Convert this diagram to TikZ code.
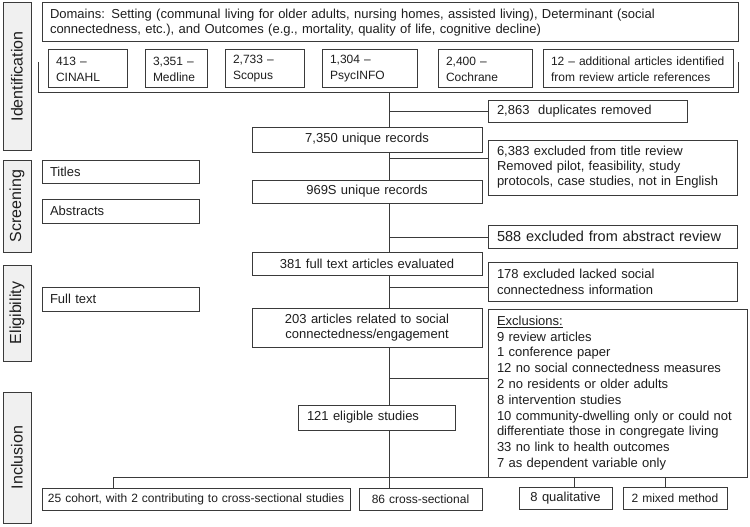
\documentclass[tikz,border=0pt]{standalone}
\usepackage{fontspec}
\setmainfont{Liberation Sans}
\usetikzlibrary{calc}
\definecolor{ln}{HTML}{3A3A3A}
\definecolor{sidefill}{HTML}{F0F0F0}
\definecolor{txt}{HTML}{1E1E1E}
\newcommand\myfs[2]{\fontsize{#1}{#2}\selectfont}
% \bx{name}{x1}{y1}{x2}{y2}{align + extra keys}{pad}{text}
\newcommand\bx[8]{%
  \pgfmathsetmacro\bxw{#4-#2}%
  \pgfmathsetmacro\bxh{#5-#3}%
  \pgfmathsetmacro\bxt{#4-#2-2*#7}%
  \node[box, minimum width=\bxw pt, minimum height=\bxh pt, text width=\bxt pt, align=#6]
    (#1) at ({(#2+#4)/2},{(#3+#5)/2}) {#8};}
\newcommand\sidebox[4]{%
  \pgfmathsetmacro\sbh{#4-#3}%
  \node[side, minimum width=\sbh pt, minimum height=28pt] (#1) at (17,{(#3+#4)/2}) {#2};}
\begin{document}
\begin{tikzpicture}[x=1pt,y=-1pt,
  box/.style={draw=ln, line width=1pt, inner sep=0pt, text=txt, fill=white,
    font=\myfs{13}{15.5}},
  side/.style={draw=ln, line width=1pt, fill=sidefill, inner sep=0pt, text=txt,
    font=\myfs{16}{19}, rotate=90},
  dbbox/.style={font=\myfs{12}{16}},
  conn/.style={draw=ln, line width=1pt}]
\useasboundingbox (0,0) rectangle (750,527);

% phase labels
\sidebox{sid}{Identification}{3}{150}
\sidebox{sscr}{Screening}{160}{252}
\sidebox{selig}{Eligibility}{265}{361}
\sidebox{sincl}{Inclusion}{392}{523}

% identification
\bx{dom}{42}{3}{738}{42}{left}{8}{Domains: Setting (communal living for older adults, nursing homes, assisted living), Determinant (social\\connectedness, etc.), and Outcomes (e.g., mortality, quality of life, cognitive decline)}
\bx{cin}{48}{50}{127}{88}{left, dbbox}{8}{413 –\\CINAHL}
\bx{med}{145}{50}{207}{88}{left, dbbox}{8}{3,351 –\\Medline}
\bx{sco}{225}{50}{304}{88}{left, dbbox}{8}{2,733 –\\Scopus}
\bx{psy}{322}{50}{417}{88}{left, dbbox}{8}{1,304 –\\PsycINFO}
\bx{coc}{438}{50}{532}{88}{left, dbbox}{8}{2,400 –\\Cochrane}
\bx{add}{543}{50}{733}{88}{left, dbbox}{8}{12 – additional articles identified\\from review article references}

\coordinate (brtl) at (38,62);
\coordinate (brbl) at (38,93);
\coordinate (brbr) at (738,93);
\coordinate (brtr) at (738,62);
\draw[conn] (brtl) -- (brbl) -- (brbr) -- (brtr);
\coordinate (tr) at (389,93);

\bx{dup}{488}{100}{687}{122}{left}{9}{2,863~ duplicates removed}
\bx{n7350}{252}{127}{482}{152}{center}{4}{7,350 unique records}

% screening
\bx{tit}{42}{160}{199}{183}{left}{8}{Titles}
\bx{abs}{42}{199}{199}{223}{left}{8}{Abstracts}
\bx{ex6383}{488}{140}{737}{195}{left, font=\myfs{13}{15}}{9}{6,383 excluded from title review\\Removed pilot, feasibility, study\\protocols, case studies, not in English}
\bx{n969}{252}{180}{482}{203}{center}{4}{969S unique records}
\bx{ex588}{488}{225}{737}{248}{left, font=\myfs{14.5}{17}}{9}{588 excluded from abstract review}
\bx{n381}{252}{252}{482}{275}{center}{4}{381 full text articles evaluated}

% eligibility
\bx{ft}{42}{287}{199}{311}{left}{8}{Full text}
\bx{ex178}{488}{262}{737}{301}{left, font=\myfs{13}{16}}{9}{178 excluded lacked social\\connectedness information}
\bx{n203}{252}{308}{482}{347}{center, font=\myfs{13}{15}}{4}{203 articles related to social\\connectedness/engagement}
\bx{excl}{488}{309}{747}{477}{left, font=\myfs{13}{15.8}}{9}{\underline{Exclusions:}\\9 review articles\\1 conference paper\\12 no social connectedness measures\\2 no residents or older adults\\8 intervention studies\\10 community-dwelling only or could not\\differentiate those in congregate living\\33 no link to health outcomes\\7 as dependent variable only}

% inclusion
\bx{n121}{298}{405}{455}{430}{left}{9}{121 eligible studies}
\bx{coh}{42}{488}{350}{510}{center, font=\myfs{12}{14}}{2}{25 cohort, with 2 contributing to cross-sectional studies}
\bx{n86}{359}{488}{482}{510}{center, font=\myfs{12}{14}}{4}{86 cross-sectional}
\bx{qual}{519}{487}{612}{509}{center, font=\myfs{13}{15}}{4}{8 qualitative}
\bx{mix}{623}{487}{727}{509}{center, font=\myfs{12}{14}}{4}{2 mixed method}

% trunk
\draw[conn] (tr) -- (tr |- n7350.north);
\draw[conn] (tr |- n7350.south) -- (tr |- n969.north);
\draw[conn] (tr |- n969.south) -- (tr |- n381.north);
\draw[conn] (tr |- n381.south) -- (tr |- n203.north);
\draw[conn] (tr |- n203.south) -- (tr |- n121.north);
\draw[conn] (tr |- n121.south) -- (tr |- n86.north);

% exclusion branches
\coordinate (h1) at (0,111);
\coordinate (h2) at (0,158);
\coordinate (h3) at (0,237);
\coordinate (h4) at (0,287);
\coordinate (h5) at (0,378);
\draw[conn] (tr |- h1) -- (dup.west |- h1);
\draw[conn] (tr |- h2) -- (ex6383.west |- h2);
\draw[conn] (tr |- h3) -- (ex588.west |- h3);
\draw[conn] (tr |- h4) -- (ex178.west |- h4);
\draw[conn] (tr |- h5) -- (excl.west |- h5);

% bottom bar
\coordinate (bl) at (113,477);
\coordinate (br) at (665,477);
\coordinate (qx) at (574,477);
\draw[conn] (bl) -- (br);
\draw[conn] (bl) -- (bl |- coh.north);
\draw[conn] (qx) -- (qx |- qual.north);
\draw[conn] (br) -- (br |- mix.north);
\end{tikzpicture}
\end{document}
